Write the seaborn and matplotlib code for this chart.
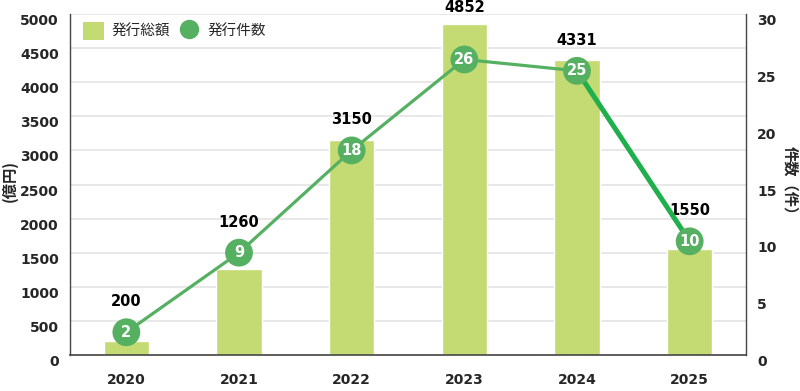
import numpy as np
import pandas as pd
import seaborn as sns
import matplotlib.pyplot as plt
from matplotlib.patches import Patch
from matplotlib.lines import Line2D

sns.set_theme(style="white")
plt.rcParams['font.family'] = ['DejaVu Sans', 'Noto Sans CJK JP']

years = ["2020", "2021", "2022", "2023", "2024", "2025"]
amounts = [200, 1260, 3150, 4852, 4331, 1550]
counts = [2, 9, 18, 26, 25, 10]

bar_color = "#c4da72"
dot_color = "#56b062"
last_color = "#1faf4c"

df = pd.DataFrame({"year": years, "amount": amounts, "count": counts})
df["pos"] = np.arange(len(df))

fig = plt.figure(figsize=(8, 3.91), dpi=100)
ax = fig.add_axes([70 / 800, 36 / 391, 676 / 800, 341 / 391])

sns.barplot(data=df, x="year", y="amount", color=bar_color, width=0.4,
            saturation=1, ax=ax, zorder=2)
ax.set_xlim(-0.5, len(years) - 0.5)
ax.set_ylim(0, 5000)
ax.set_yticks(np.arange(0, 5001, 500))
ax.grid(axis="y", color="#e4e4e4", linewidth=1.2, zorder=0)
ax.set_axisbelow(True)
for s in ["top", "right"]:
    ax.spines[s].set_visible(False)
ax.spines["left"].set_color("#444444")
ax.spines["bottom"].set_color("#444444")
ax.spines["left"].set_linewidth(1)
ax.spines["bottom"].set_linewidth(1.2)
ax.tick_params(axis="y", length=0, pad=8, labelsize=10)
ax.tick_params(axis="x", length=0, pad=13, labelsize=10)
ax.set_xticks(np.arange(0.5, len(years) - 1, 1), minor=True)
ax.tick_params(axis="x", which="minor", direction="in", length=7,
               color="#666666", width=1)
for lab in ax.get_yticklabels() + ax.get_xticklabels():
    lab.set_fontweight("bold")
for lab in ax.get_yticklabels():
    lab.set_va("top")
ax.set_xlabel("")
ax.set_ylabel("(億円)", fontsize=11, fontweight="bold", va="center",
              family=["Noto Sans CJK JP", "DejaVu Sans"])
ax.yaxis.set_label_coords(-0.089, 0.51)

ax2 = ax.twinx()
ax2.set_ylim(0, 30)
ax2.set_yticks(np.arange(0, 31, 5))
sns.lineplot(data=df.iloc[:5], x="pos", y="count", color=dot_color,
             linewidth=2.3, ax=ax2, zorder=3)
sns.lineplot(data=df.iloc[4:], x="pos", y="count", color=last_color,
             linewidth=3.6, ax=ax2, zorder=3)
ax2.scatter(df["pos"], df["count"], s=400, color=dot_color, zorder=4,
            edgecolors="none")
for p, c in zip(df["pos"], df["count"]):
    ax2.text(p, c, str(c), color="white", fontsize=10.5, fontweight="bold",
             ha="center", va="center", zorder=5)
ax2.set_xlim(-0.5, len(years) - 0.5)
for s in ["top", "left", "bottom"]:
    ax2.spines[s].set_visible(False)
ax2.spines["right"].set_color("#444444")
ax2.spines["right"].set_linewidth(1)
ax2.tick_params(axis="y", length=0, pad=8, labelsize=10)
for lab in ax2.get_yticklabels():
    lab.set_fontweight("bold")
    lab.set_va("top")
ax2.set_xlabel("")
ax2.set_ylabel("件数（件）", fontsize=11, fontweight="bold", rotation=-90,
               family=["Noto Sans CJK JP", "DejaVu Sans"], va="center")
ax2.yaxis.set_label_coords(1.065, 0.5)

# amount labels above bar or dot, whichever is higher
for p, a, c in zip(df["pos"], df["amount"], df["count"]):
    top_bar = a / 5000
    top_dot = c / 30 + 14 / 341
    y = max(top_bar, top_dot)
    ax.annotate(str(a), (p, y), xycoords=("data", "axes fraction"),
                xytext=(0, 12), textcoords="offset points", ha="center",
                va="center", fontsize=10.5, fontweight="bold", color="black",
                annotation_clip=False, zorder=6)

handles = [Patch(facecolor=bar_color, edgecolor="none"),
           Line2D([], [], marker="o", linestyle="none", markersize=14,
                  markerfacecolor=dot_color, markeredgecolor="none")]
ax2.legend(handles, ["発行総額", "発行件数"], loc="center left",
           bbox_to_anchor=(0.0, 0.95), ncol=2, frameon=False,
           handlelength=1.45, handleheight=1.45, handletextpad=0.5,
           columnspacing=0.6, prop={"family": ["Noto Sans CJK JP"], "size": 10.5})

fig.savefig("out.png", dpi=100)
